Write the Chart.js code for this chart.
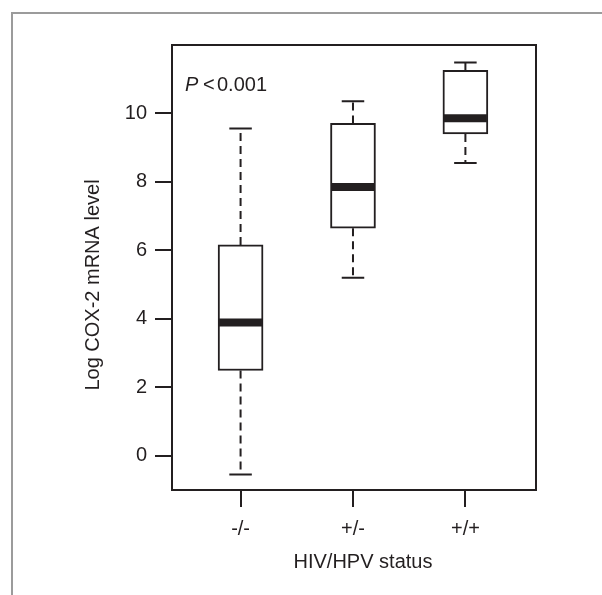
<!DOCTYPE html>
<html>
<head>
<meta charset="utf-8">
<title>COX-2 mRNA by HIV/HPV status</title>
<script src="https://cdn.jsdelivr.net/npm/chart.js"></script>
<style>
  html, body { margin: 0; padding: 0; background: #fff; }
  #chart { display: block; }
</style>
</head>
<body>
<canvas id="chart" width="602" height="595"></canvas>
<script>
// values (log COX-2 mRNA level)
const groups = ['-/-', '+/-', '+/+'];
const whiskerLow = [-0.55, 5.20, 8.55];
const q1 = [2.49, 6.65, 9.40];
const median = [3.89, 7.85, 9.86];
const q3 = [6.16, 9.71, 11.26];
const whiskerHigh = [9.56, 10.36, 11.49];
const yTicks = [0, 2, 4, 6, 8, 10];

const ink = '#231f20';
const family = '"Liberation Sans", Arial, Helvetica, sans-serif';
const boxWidth = 45;

const boxPlot = {
  id: 'boxPlot',
  beforeDraw(chart) {
    // grey panel frame
    const ctx = chart.ctx;
    ctx.save();
    ctx.fillStyle = '#9b9b9b';
    ctx.fillRect(11, 12, 2, chart.height - 12);
    ctx.fillRect(11, 12, chart.width - 11, 2);
    ctx.restore();
  },
  afterDatasetsDraw(chart) {
    const { ctx, chartArea: a, scales: { x, y } } = chart;
    ctx.save();
    ctx.strokeStyle = ink;
    ctx.lineWidth = 2;
    ctx.strokeRect(a.left, a.top, a.right - a.left, a.bottom - a.top);

    groups.forEach((g, i) => {
      const cx = x.getPixelForValue(i + 1);
      const half = boxWidth / 2;
      const cap = boxWidth / 4;

      // dashed whiskers
      ctx.lineWidth = 2;
      ctx.setLineDash([8, 5]);
      ctx.beginPath();
      ctx.moveTo(cx, y.getPixelForValue(q3[i]));
      ctx.lineTo(cx, y.getPixelForValue(whiskerHigh[i]));
      ctx.moveTo(cx, y.getPixelForValue(q1[i]));
      ctx.lineTo(cx, y.getPixelForValue(whiskerLow[i]));
      ctx.stroke();

      // caps
      ctx.setLineDash([]);
      ctx.beginPath();
      ctx.moveTo(cx - cap, y.getPixelForValue(whiskerHigh[i]));
      ctx.lineTo(cx + cap, y.getPixelForValue(whiskerHigh[i]));
      ctx.moveTo(cx - cap, y.getPixelForValue(whiskerLow[i]));
      ctx.lineTo(cx + cap, y.getPixelForValue(whiskerLow[i]));
      ctx.stroke();

      // median
      ctx.lineWidth = 8;
      ctx.beginPath();
      ctx.moveTo(cx - half + 1, y.getPixelForValue(median[i]));
      ctx.lineTo(cx + half - 1, y.getPixelForValue(median[i]));
      ctx.stroke();
    });
    ctx.restore();
  },
  afterDraw(chart) {
    const ctx = chart.ctx;
    ctx.save();
    ctx.fillStyle = ink;
    ctx.textBaseline = 'alphabetic';

    // annotation
    ctx.textAlign = 'left';
    ctx.font = 'italic 20px ' + family;
    ctx.fillText('P', 185, 91);
    ctx.font = '20px ' + family;
    ctx.fillText('<', 203, 91);
    ctx.fillText('0.001', 217, 91);

    // axis titles
    ctx.textAlign = 'center';
    ctx.fillText('HIV/HPV status', 363, 568);
    ctx.translate(99, 285);
    ctx.rotate(-Math.PI / 2);
    ctx.fillText('Log COX-2 mRNA level', 0, 0);
    ctx.restore();
  }
};

new Chart(document.getElementById('chart'), {
  type: 'bar',
  data: {
    datasets: [{
      data: groups.map((g, i) => ({ x: i + 1, y: [q1[i], q3[i]] })),
      backgroundColor: '#ffffff',
      borderColor: ink,
      borderWidth: 2,
      borderSkipped: false,
      barThickness: boxWidth
    }]
  },
  options: {
    responsive: false,
    devicePixelRatio: 1,
    animation: false,
    layout: { padding: { top: 45, right: 66, bottom: 0, left: 0 } },
    plugins: { legend: { display: false }, tooltip: { enabled: false } },
    scales: {
      x: {
        type: 'linear',
        offset: false,
        min: 0.39,
        max: 3.628,
        afterBuildTicks: ax => { ax.ticks = groups.map((g, i) => ({ value: i + 1 })); },
        afterFit: ax => { ax.height = 105; },
        grid: { offset: false, drawOnChartArea: false, drawTicks: true, tickLength: 17, color: ink, lineWidth: 2 },
        border: { display: true, color: ink, width: 2 },
        ticks: {
          callback: (v, idx) => groups[idx],
          color: ink,
          font: { size: 20, family: family },
          padding: 10,
          maxRotation: 0,
          autoSkip: false
        }
      },
      y: {
        min: -1,
        max: 12,
        afterBuildTicks: ax => { ax.ticks = yTicks.map(v => ({ value: v })); },
        afterFit: ax => { ax.width = 172; },
        grid: { drawOnChartArea: false, drawTicks: true, tickLength: 17, color: ink, lineWidth: 2 },
        border: { display: true, color: ink, width: 2 },
        ticks: {
          color: ink,
          font: { size: 20, family: family },
          padding: 8
        }
      }
    }
  },
  plugins: [boxPlot]
});
</script>
</body>
</html>
